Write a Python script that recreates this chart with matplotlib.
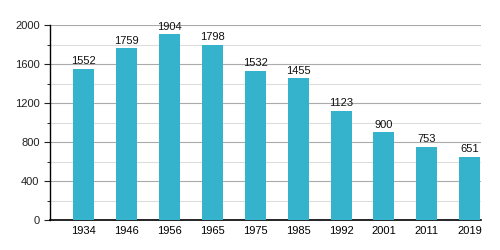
import matplotlib
matplotlib.use("Agg")
import matplotlib.pyplot as plt
from matplotlib.ticker import MultipleLocator

years = ["1934", "1946", "1956", "1965", "1975", "1985", "1992", "2001", "2011", "2019"]
population = [1552, 1759, 1904, 1798, 1532, 1455, 1123, 900, 753, 651]

plt.rcParams['font.family'] = ['Liberation Sans', 'DejaVu Sans']

fig = plt.figure(figsize=(5, 2.5), dpi=100)
ax = fig.add_axes([0.10, 0.12, 0.862, 0.78])

x = list(range(len(years)))
bars = ax.bar(x, population, width=0.49, color='#35b3cc', zorder=3)
for xi, v in zip(x, population):
    ax.text(xi, v + 25, str(v), ha='center', va='bottom', fontsize=8, color='#111111', zorder=4)

ax.set_xlim(-0.78, 9.26)
ax.set_ylim(0, 2000)
ax.set_xticks(x)
ax.set_xticklabels(years, fontsize=8)
ax.yaxis.set_major_locator(MultipleLocator(400))
ax.yaxis.set_minor_locator(MultipleLocator(200))
ax.tick_params(axis='y', which='major', length=4, labelsize=8, colors='#222222')
ax.tick_params(axis='y', which='minor', length=2)
ax.tick_params(axis='x', length=0, pad=4, labelsize=8)
ax.grid(axis='y', which='major', color='#aaaaaa', linewidth=0.8, zorder=0)
ax.grid(axis='y', which='minor', color='#dddddd', linewidth=0.8, zorder=0)
for s in ['top', 'right']:
    ax.spines[s].set_visible(False)
ax.spines['left'].set_color('black')
ax.spines['bottom'].set_color('black')
ax.spines['left'].set_linewidth(1.0)
ax.spines['bottom'].set_linewidth(1.2)

fig.savefig("out.png", dpi=100)
